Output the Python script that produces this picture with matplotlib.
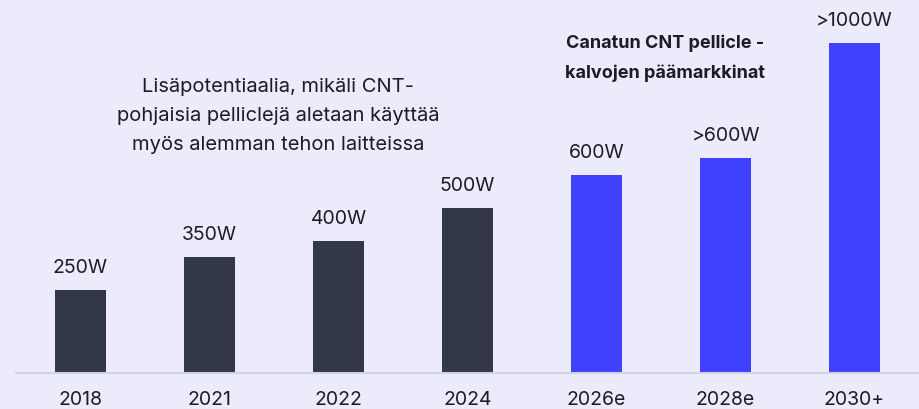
import matplotlib
matplotlib.use('Agg')
import matplotlib.pyplot as plt

# chart data
years = ['2018', '2021', '2022', '2024', '2026e', '2028e', '2030+']
power = [250, 350, 400, 500, 600, 650, 1000]
labels = ['250W', '350W', '400W', '500W', '600W', '>600W', '>1000W']
is_target = [False, False, False, False, True, True, True]

bg = '#ebebfc'
dark = '#323846'
blue = '#4040ff'
txt = '#1c1c24'
font = ['Inter', 'DejaVu Sans']
plt.rcParams['font.family'] = font

fig = plt.figure(figsize=(9.19, 4.09), dpi=100, facecolor=bg)
ax = fig.add_axes([16 / 919, 36.3 / 409, 903 / 919, 372.7 / 409])
ax.set_facecolor(bg)

x = list(range(len(years)))
colors = [blue if t else dark for t in is_target]
ax.bar(x, power, width=0.395, color=colors)

for xi, p, lab in zip(x, power, labels):
    ax.annotate(lab, (xi, p), xytext=(0, 12.3), textcoords='offset points',
                ha='center', va='baseline', fontsize=14, color=txt)

ax.set_xlim(-0.5, 6.5)
ax.set_ylim(0, 372.7 / 0.33)
ax.set_xticks(x)
ax.set_xticklabels(years, fontsize=14, color=txt)
ax.tick_params(axis='x', length=0, pad=13)
ax.set_yticks([])
for s in ['top', 'right', 'left']:
    ax.spines[s].set_visible(False)
ax.spines['bottom'].set_color('#d3d3e0')
ax.spines['bottom'].set_linewidth(1.5)

# annotations (va='baseline' anchors the last line)
fig.text(278 / 919, 1 - 150 / 409,
         'Lisäpotentiaalia, mikäli CNT-\npohjaisia pelliclejä aletaan käyttää\nmyös alemman tehon laitteissa',
         ha='center', va='baseline', fontsize=14.5, color=txt, linespacing=1.78)
fig.text(665 / 919, 1 - 78 / 409,
         'Canatun CNT pellicle -\nkalvojen päämarkkinat',
         ha='center', va='baseline', fontsize=13, fontweight='bold', color=txt,
         linespacing=1.95)

fig.savefig('out.png', dpi=100, facecolor=bg)
